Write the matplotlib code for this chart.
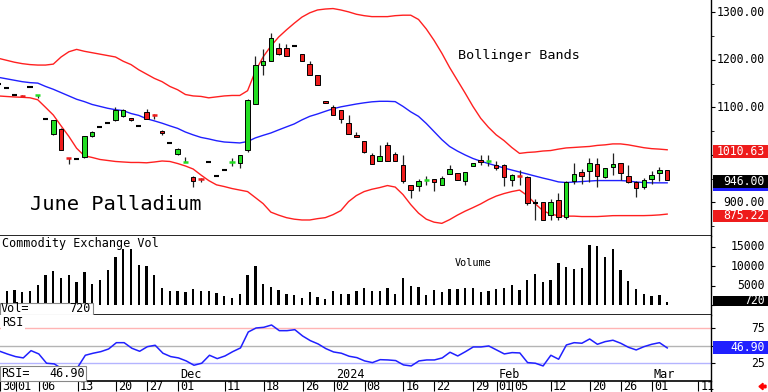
import matplotlib
matplotlib.use("Agg")
import matplotlib.pyplot as plt
import matplotlib.transforms as mtransforms
from matplotlib.patches import Rectangle, FancyArrow
from matplotlib.lines import Line2D

plt.rcParams["font.family"] = ["DejaVu Sans Mono", "DejaVu Sans"]

# trading days: index 0 = Oct 30 2023 ... index 86 = Mar 5 2024
opens = [1149, 1140, 1127, 1125, 1143, 1124.5, 1075, 1043, 1055, 994,
         992, 995, 1039, 1058, 1068, 1073, 1081, 1077, 1060, 1090,
         1085, 1051, 1025.5, 1001, 984, 954, 950, 984, 956, 968,
         984, 982, 1010, 1108, 1189, 1198, 1225, 1225, 1229.5, 1212,
         1191, 1169, 1114, 1101, 1095, 1067, 1042, 1030, 998.6, 988,
         1021, 1002, 979.6, 936.8, 933.8, 946.5, 948.6, 936.8, 960, 962,
         945.8, 976, 989.6, 985.5, 979.6, 979.6, 947.3, 957, 954.3, 898,
         900, 874, 905, 868.3, 945.8, 963.4, 965.5, 981, 954.3, 975.4,
         983.2, 956.4, 943.7, 931.7, 949.4, 962, 967]
highs = [1149, 1140, 1127, 1125, 1143, 1126, 1075, 1074, 1056, 994,
         992, 1040, 1050, 1058, 1068, 1100, 1097, 1077, 1060, 1096,
         1085, 1052, 1025.5, 1014, 995, 955, 951, 984, 956, 968,
         994, 999, 1117, 1208, 1222, 1256, 1234.5, 1233, 1229.5, 1212,
         1197, 1169, 1114, 1105, 1095, 1083, 1049, 1030, 1003.5, 1021,
         1028, 1005.6, 1000, 937, 949.4, 956, 949, 955, 979.6, 962,
         964, 983.5, 1000, 1000, 988, 980, 960, 967, 954.5, 907,
         900, 907, 920, 944, 982.8, 969.7, 993.8, 993.8, 972, 1003.5,
         983.5, 979.6, 944, 951.5, 965.5, 975.4, 969]
lows = [1149, 1140, 1127, 1123, 1143, 1120, 1075, 1042, 1010, 980,
        992, 994, 1038, 1058, 1068, 1072, 1080, 1072, 1060, 1075,
        1075, 1041, 1025.5, 1000, 984, 933, 942, 984, 956, 968,
        977, 973, 1005, 1107, 1168, 1197, 1211, 1208, 1229.5, 1197.8,
        1169, 1148, 1110, 1083, 1066, 1044, 1037, 1003.5, 981, 988,
        986, 986, 940, 909.3, 924.7, 937, 923, 936, 959, 948,
        936.8, 975.5, 979.6, 977.5, 969, 934.6, 933.8, 937.4, 895.2, 863.5,
        863, 862.8, 863.5, 865.6, 938, 938.9, 942.2, 931.7, 951.5, 958.5,
        947.3, 940, 912, 928.3, 938.9, 944.4, 946]
closes = [1149, 1140, 1127, 1123, 1143, 1126, 1075, 1072.6, 1011, 992,
          992, 1039, 1049, 1058, 1068, 1095, 1094, 1073, 1060, 1076,
          1083, 1045, 1025.5, 1013, 985.5, 944, 947.5, 984, 956, 968,
          985.5, 998.6, 1116, 1189, 1197, 1245, 1211.3, 1208.4, 1229.5, 1197.8,
          1169.1, 1148, 1110, 1083, 1076, 1044.5, 1037.3, 1005.6, 981.1, 997,
          986.6, 986, 944.4, 926.8, 944.4, 948, 943.7, 951.5, 970.6, 948,
          963.4, 983.2, 983.9, 987, 972.7, 952.8, 957.9, 955.5, 898.7, 898,
          863.5, 901.5, 869.8, 943.7, 960, 956.4, 982.4, 956.4, 971.8, 981.1,
          962.1, 942.2, 930.4, 947.3, 958.5, 967, 946]

upper = [1203, 1199, 1195, 1192, 1190, 1189, 1189, 1191, 1206, 1217,
         1222, 1218, 1215, 1212, 1209, 1206, 1197, 1190, 1179, 1170,
         1161, 1154, 1144, 1137, 1127, 1124, 1123, 1120, 1122, 1124,
         1125, 1125, 1135, 1176, 1206, 1229, 1248, 1263, 1277, 1290,
         1299, 1305, 1307, 1308, 1305, 1301, 1296, 1293, 1291, 1291,
         1291, 1293, 1294, 1294, 1285, 1265, 1241, 1214, 1184, 1157,
         1130, 1102, 1077, 1058, 1042, 1030, 1015.5, 1003, 1005, 1006,
         1008, 1009, 1012, 1014.5, 1015.5, 1016.6, 1017.6, 1019.8, 1021, 1023,
         1023, 1021, 1018, 1015, 1013, 1012, 1010.63]
middle = [1163, 1160, 1157, 1154, 1152, 1151, 1144, 1138, 1131, 1124,
          1117, 1112, 1106, 1102, 1098, 1095, 1093, 1087, 1083, 1076,
          1071.5, 1066.6, 1061, 1055.7, 1048, 1042, 1036.7, 1033.5, 1029.7, 1027,
          1026, 1025, 1028, 1035.6, 1041, 1046, 1052.5, 1058.8, 1065, 1073.6,
          1081, 1086, 1091.6, 1097, 1101, 1104, 1107, 1109.5, 1111.6, 1112.7,
          1112.7, 1112, 1102, 1090.5, 1081, 1066, 1049, 1032, 1017.6, 1008,
          999.7, 992.3, 986.6, 981.7, 976.9, 972.2, 968, 963.8, 959.6, 955.3,
          951.1, 947.3, 943, 941.6, 942.7, 943.7, 944.8, 945.8, 945.8, 945.8,
          945.8, 944.8, 942.7, 941.6, 941, 941, 941]
lower = [1123.9, 1122.8, 1121.8, 1121.1, 1120.1, 1115.9, 1100, 1083.8, 1061, 1038.8,
         1013.8, 998, 994.4, 990.2, 988.1, 986, 984.9, 983.9, 983.9, 983.2,
         984.9, 987, 986, 981.7, 976.5, 970.1, 957.5, 945.8, 936.8, 933.2,
         929, 925.8, 922.6, 910, 897.3, 879.3, 873, 867.7, 864.5, 862.8,
         862.8, 865.6, 867.7, 874, 882.5, 901.5, 914.2, 922.6, 927.5, 931,
         935.3, 932.1, 916.3, 895.2, 877.2, 864.5, 858.2, 855.7, 863.5, 873,
         881.4, 888.8, 896.6, 905.7, 913.1, 918.4, 922.6, 925.8, 914.2, 897.3,
         882.5, 875.1, 871.9, 870.9, 870.9, 870, 870, 870, 870.9, 871.9,
         872, 872, 872, 872, 872.5, 873.5, 875.22]

volume = [3700, 3700, 4000, 3300, 3700, 5100, 7650, 8650, 7000, 7800,
          5850, 8400, 5500, 6550, 8950, 12250, 14250, 14250, 10300, 9950,
          7800, 4400, 3550, 3700, 3400, 4150, 3700, 3550, 3100, 2450,
          1850, 2850, 7650, 10150, 5500, 4650, 3800, 2950, 2500, 1850,
          3300, 2100, 1650, 3550, 2950, 2950, 3550, 4400, 3550, 3700,
          4400, 2950, 6950, 5000, 4650, 2500, 3950, 3300, 4150, 4150,
          4400, 4400, 3400, 3700, 4150, 4400, 5100, 3950, 6350, 8100,
          5850, 6550, 10800, 9700, 9300, 9550, 15350, 15100, 12250, 14250,
          9100, 6300, 4250, 2850, 2450, 2500, 720]

rsi = [42, 38, 34.5, 32.6, 43, 38.3, 25, 24, 17, 13,
       19, 36.4, 39.3, 41.6, 45.4, 54.4, 54.4, 46.4, 42.1, 48.7,
       50.7, 39.3, 34.5, 32.6, 28.3, 22.1, 25, 36.4, 31.6, 35.4,
       41.6, 46.9, 69.7, 75.4, 76.4, 79.7, 71.6, 71.6, 73, 64,
       57.3, 52.6, 45.9, 41.1, 39.3, 35, 33, 28.3, 25.9, 30.1,
       29.7, 28.8, 22.6, 21.1, 28.3, 29.7, 29.7, 32.6, 40.7, 35.4,
       41.6, 48.3, 48.3, 49.7, 44, 38.3, 40.2, 39.7, 25.9, 25,
       21.1, 36.4, 30.7, 51.1, 54.4, 53.6, 59.7, 52.1, 55.9, 57.9,
       53.6, 47.8, 44, 48.7, 52.1, 54.4, 46.9]

tick_pos = [0, 2, 5, 10, 15, 19, 23, 29, 34, 39, 43, 47, 52, 56, 61, 64, 66, 71, 76, 80, 84, 90]
tick_lab = ["30", "01", "06", "13", "20", "27", "01", "11", "18", "26", "02",
            "08", "16", "22", "29", "01", "05", "12", "20", "26", "01", "11"]
month_pos = [23, 43, 64, 84]
month_lab = ["Dec", "2024", "Feb", "Mar"]
price_ticks = [900, 1000, 1100, 1200, 1300]
price_labels = [900, 1100, 1200, 1300]   # 1000 sits under the upper band box
vol_ticks = [5000, 10000, 15000]
rsi_ticks = [25, 50, 75]
rsi_labels = [25, 75]                    # 50 sits under the RSI box

W, H = 768, 392
fig = plt.figure(figsize=(7.68, 3.92), dpi=100)


def rect(top, bottom):
    return [0, 1 - bottom / H, 711 / W, (bottom - top) / H]


ax = fig.add_axes(rect(0, 235.7))
axv = fig.add_axes(rect(235.7, 315))
axr = fig.add_axes(rect(315, 380.7))
x = list(range(len(closes)))
green, red = "#22dd22", "#ee1c1c"
lab_x = 765 / 711

for a in (ax, axv, axr):
    a.set_xlim(0.14, 91.64)
    a.spines["left"].set_visible(False)
    a.spines["top"].set_visible(False)
    a.spines["right"].set_linewidth(1.0)
    a.spines["bottom"].set_linewidth(1.2)
    a.tick_params(axis="y", left=False, right=True, labelleft=False, labelright=False,
                  length=3, width=0.8)
    a.tick_params(axis="x", bottom=False, labelbottom=False)

# price panel
ax.plot(x, upper, color="#ff2020", lw=1.0, zorder=2)
ax.plot(x, lower, color="#ff2020", lw=1.0, zorder=2)
ax.plot(x, middle, color="#2020ff", lw=1.0, zorder=2)
for i, (o, h, l, c) in enumerate(zip(opens, highs, lows, closes)):
    if h > l:
        ax.vlines(i, l, h, color="#222222", lw=0.9, zorder=3)
    if o == c:
        ax.hlines(o, i - 0.33, i + 0.33, color="black", lw=1.5, zorder=4)
    elif abs(c - o) < 4:
        ax.hlines((o + c) / 2, i - 0.33, i + 0.33, color=green if c > o else red, lw=1.8, zorder=4)
    else:
        ax.add_patch(Rectangle((i - 0.29, min(o, c)), 0.58, abs(c - o),
                               fc=green if c > o else red, ec="black", lw=0.7, zorder=4))
ax.set_yticks(price_ticks)
ax.set_yticks(range(850, 1326, 50), minor=True)
ax.tick_params(axis="y", which="minor", left=False, right=True, length=2, width=0.6)
ax.set_ylim(829.7, 1326)
ax.text(30 / 711, 0.109, "June Palladium", transform=ax.transAxes, fontsize=14.7, va="baseline")
ax.text(458 / 711, 0.763, "Bollinger Bands", transform=ax.transAxes, fontsize=9.7, va="center")

ytr = ax.get_yaxis_transform()
for p in price_labels:
    ax.text(lab_x, p, "%.2f" % p, transform=ytr, ha="right", va="center", fontsize=8.3, clip_on=False)


def value_box(a, y, half, s, fc, z):
    t = a.get_yaxis_transform()
    a.add_patch(Rectangle((1.003, y - half), 0.077, 2 * half, transform=t, fc=fc, ec="none",
                          clip_on=False, zorder=z))
    if s:
        a.text(lab_x, y, s, transform=t, ha="right", va="center", fontsize=8.3, color="white",
               clip_on=False, zorder=z + 0.5)


value_box(ax, upper[-1] - 4, 13, "%.2f" % upper[-1], "#ee1c1c", 5)
value_box(ax, middle[-1] - 4, 13, "", "#2020ff", 5)
value_box(ax, closes[-1] - 2, 13, "%.2f" % closes[-1], "black", 6)
value_box(ax, lower[-1] - 4, 13, "%.2f" % lower[-1], "#ee1c1c", 5)

# volume panel
axv.bar(x, volume, width=0.3, color="black", zorder=2)
axv.set_yticks([0] + vol_ticks)
axv.set_ylim(-2490, 17770)
vtr = axv.get_yaxis_transform()
for v in vol_ticks:
    axv.text(lab_x, v, str(v), transform=vtr, ha="right", va="center", fontsize=8.3, clip_on=False)
value_box(axv, volume[-1] + 450, 1250, str(volume[-1]), "black", 5)
axv.text(2 / 711, 0.899, "Commodity Exchange Vol", transform=axv.transAxes, fontsize=8.5, va="center")
axv.text(473 / 711, 0.662, "Volume", transform=axv.transAxes, fontsize=7.3, ha="center", va="center")
axv.add_patch(Rectangle((0, 0), 93 / 711, 12.5 / 79.3, transform=axv.transAxes, fc="white",
                        ec="#888888", lw=0.8, zorder=5, clip_on=False))
axv.text(0.001, 6.3 / 79.3, "Vol=", transform=axv.transAxes, fontsize=8.5, va="center", zorder=6)
axv.text(91 / 711, 6.3 / 79.3, str(volume[-1]), transform=axv.transAxes, fontsize=8.5,
         ha="right", va="center", zorder=6)

# RSI panel
axr.axhline(75, color="#ffb4b4", lw=1.0, zorder=1)
axr.axhline(50, color="#b4b4b4", lw=1.0, zorder=1)
axr.axhline(25, color="#b4b4ff", lw=1.0, zorder=1)
axr.plot(x, rsi, color="#2020ff", lw=1.1, zorder=3)
axr.set_ylim(0, 94)
axr.set_yticks(rsi_ticks)
rtr = axr.get_yaxis_transform()
for r in rsi_labels:
    axr.text(lab_x, r, str(r), transform=rtr, ha="right", va="center", fontsize=8.3, clip_on=False)
value_box(axr, rsi[-1] + 0.7, 9, "%.2f" % rsi[-1], "#2020ff", 5)
axr.text(2 / 711, 0.883, "RSI", transform=axr.transAxes, fontsize=8.5, va="center", zorder=6,
         bbox=dict(fc="white", ec="none", pad=1))
axr.add_patch(Rectangle((0, 0), 86 / 711, 14.7 / 65.7, transform=axr.transAxes, fc="white",
                        ec="#888888", lw=0.8, zorder=5, clip_on=False))
axr.text(0.001, 7.3 / 65.7, "RSI=", transform=axr.transAxes, fontsize=8.5, va="center", zorder=6)
axr.text(85 / 711, 7.3 / 65.7, "%.2f" % rsi[-1], transform=axr.transAxes, fontsize=8.5,
         ha="right", va="center", zorder=6)

axr.set_xticks(tick_pos)
axr.tick_params(axis="x", bottom=True, labelbottom=False, direction="out", length=7.5, width=0.8)
xtr = axr.get_xaxis_transform() + mtransforms.ScaledTranslation(1.5 / 72, 0, fig.dpi_scale_trans)
for p, s in zip(tick_pos, tick_lab):
    axr.text(p, -6.0 / 65.7, s, transform=xtr, fontsize=8.5, ha="left", va="center", clip_on=False)
for p, s in zip(month_pos, month_lab):
    axr.text(p, 6.7 / 65.7, s, transform=xtr, fontsize=8.5, ha="left", va="center")

fig.add_artist(Line2D([711 / W, 711 / W], [0, 11.3 / H], transform=fig.transFigure,
                      color="black", lw=1.0))
fig.add_artist(FancyArrow(7.66, 0.055, -0.07, 0, width=0.025, head_width=0.065, head_length=0.04,
                          length_includes_head=True, color="red", transform=fig.dpi_scale_trans))

fig.savefig("out.png", dpi=100)
